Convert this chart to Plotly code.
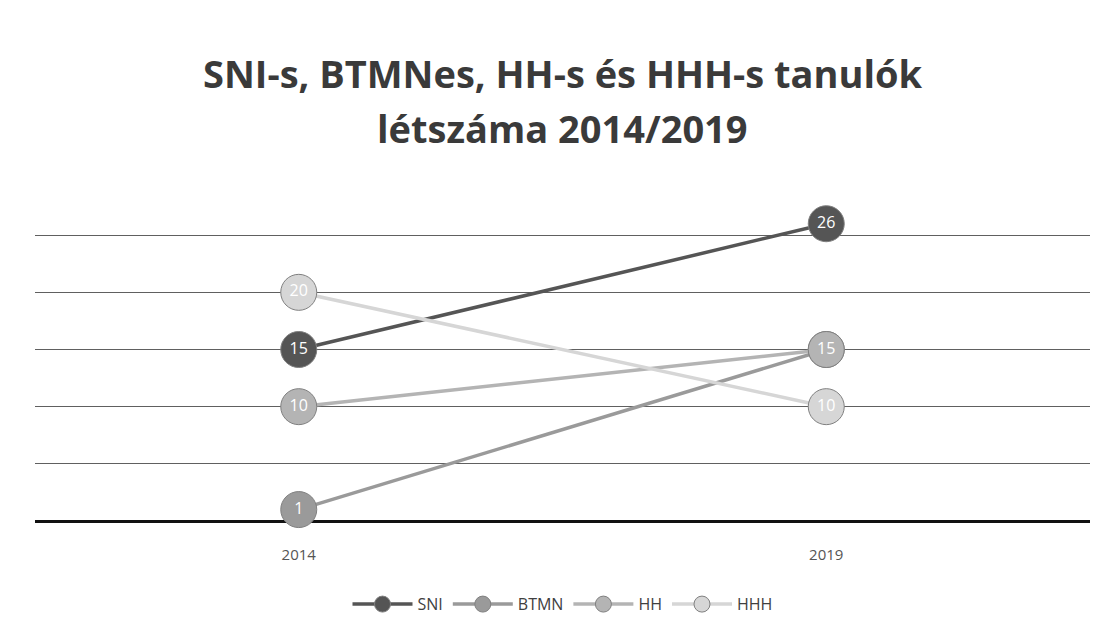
import plotly.graph_objects as go

years = ["2014", "2019"]
series_names = ["SNI", "BTMN", "HH", "HHH"]
sni = [15, 26]
btmn = [1, 15]
hh = [10, 15]
hhh = [20, 10]
values = [sni, btmn, hh, hhh]
colors = ["#555555", "#9a9a9a", "#b4b4b4", "#d6d6d6"]
grid_vals = [0, 5, 10, 15, 20, 25]
title_lines = ["SNI-s, BTMNes, HH-s és HHH-s tanulók", "létszáma 2014/2019"]

fig = go.Figure()
for name, vals, col in zip(series_names, values, colors):
    fig.add_trace(go.Scatter(
        x=years, y=vals, name=name,
        mode="lines+markers+text",
        line=dict(color=col, width=3.5),
        marker=dict(size=36, color=col, line=dict(color="#808080", width=1)),
        text=[str(v) for v in vals],
        textposition="middle center",
        textfont=dict(color="white", size=16, family="Open Sans"),
        cliponaxis=False,
    ))

for txt, ypos in zip(title_lines, [1.306, 1.146]):
    fig.add_annotation(
        text="<b>" + txt + "</b>", xref="paper", yref="paper",
        x=0.5, y=ypos, xanchor="center", yanchor="middle", showarrow=False,
        font=dict(size=38, color="#3a3a3a", family="Open Sans"),
    )

fig.update_layout(
    width=1114, height=639,
    paper_bgcolor="white", plot_bgcolor="white",
    margin=dict(l=27, r=32, t=170, b=126, autoexpand=False),
    showlegend=True,
    legend=dict(orientation="h", x=0.5, xanchor="center", xref="paper",
                yref="container", y=0.067, yanchor="middle",
                font=dict(size=16, color="#404040", family="Open Sans"),
                itemwidth=60),
    font=dict(family="Open Sans"),
)
fig.update_xaxes(
    type="category", range=[-0.5, 1.5],
    showgrid=False, showline=False, zeroline=False,
    tickfont=dict(size=15, color="#555555"),
    ticks="outside", ticklen=20, tickcolor="rgba(0,0,0,0)",
)
fig.update_yaxes(
    range=[0, 30], tickvals=grid_vals, showticklabels=False,
    showgrid=True, gridcolor="#606060", gridwidth=1,
    zeroline=True, zerolinecolor="#111111", zerolinewidth=3,
    showline=False,
)

fig.write_html("out.html")
